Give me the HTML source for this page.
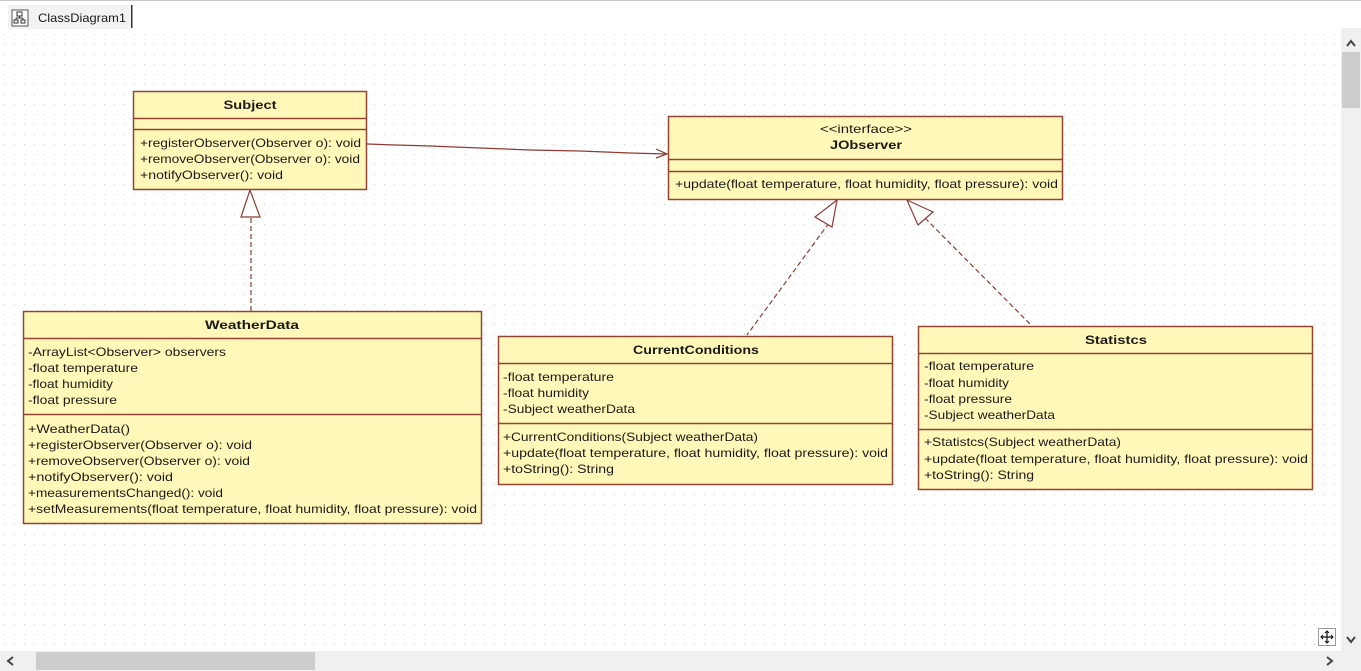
<!DOCTYPE html>
<html>
<head>
<meta charset="utf-8">
<style>
html,body{margin:0;padding:0;background:#fff;}
body{width:1361px;height:671px;overflow:hidden;position:relative;font-family:"Liberation Sans",sans-serif;}
svg{position:absolute;left:0;top:0;}
text{font-family:"Liberation Sans",sans-serif;font-size:12px;fill:#1a1a1a;}
.b{font-weight:bold;}
</style>
</head>
<body>
<svg width="1361" height="671" viewBox="0 0 1361 671" xmlns="http://www.w3.org/2000/svg">
<defs>
<pattern id="dots" x="0" y="0" width="10" height="10" patternUnits="userSpaceOnUse">
<rect x="4" y="4" width="1" height="1" fill="#cfcfcf"/>
</pattern>
</defs>
<!-- tab bar -->
<rect x="0" y="0" width="1361" height="28" fill="#ffffff"/>
<rect x="0" y="0" width="1361" height="1" fill="#c8c8c8"/>
<rect x="8" y="5" width="123" height="24" fill="#f3f3f3"/>
<rect x="131" y="5" width="1.5" height="23" fill="#333"/>
<!-- tab icon -->
<rect x="12" y="10" width="16" height="16" fill="#fff" stroke="#555" stroke-width="1"/>
<rect x="17" y="12" width="5" height="4" fill="none" stroke="#333" stroke-width="1"/>
<rect x="14" y="20" width="4" height="3" fill="none" stroke="#333" stroke-width="1"/>
<rect x="21" y="20" width="4" height="3" fill="none" stroke="#333" stroke-width="1"/>
<path d="M19.5 16 V18 M16 18 H23 M16 18 V20 M23 18 V20" stroke="#333" stroke-width="1" fill="none"/>
<text x="38" y="22" textLength="88" lengthAdjust="spacingAndGlyphs">ClassDiagram1</text>

<!-- canvas -->
<rect x="0" y="29" width="1341" height="622" fill="#ffffff"/>
<rect x="0" y="29" width="1341" height="622" fill="url(#dots)"/>

<!-- vertical scrollbar -->
<rect x="1341" y="28" width="20" height="623" fill="#f0f0f0"/>
<path d="M1347 46 L1351 41 L1355 46" stroke="#444" stroke-width="2" fill="none"/>
<rect x="1342" y="52" width="18" height="56" fill="#cdcdcd"/>
<path d="M1347 637 L1351 642 L1355 637" stroke="#444" stroke-width="2" fill="none"/>
<!-- horizontal scrollbar -->
<rect x="0" y="651" width="1361" height="20" fill="#f0f0f0"/>
<path d="M13 657 L8 661 L13 665" stroke="#444" stroke-width="2" fill="none"/>
<rect x="36" y="652" width="279" height="18" fill="#cdcdcd"/>
<path d="M1327 657 L1332 661 L1327 665" stroke="#444" stroke-width="2" fill="none"/>
<!-- move icon -->
<rect x="1318.5" y="628.5" width="17" height="17" fill="#fff" stroke="#999" stroke-width="1"/>
<path d="M1327 631 V643 M1321 637 H1333" stroke="#111" stroke-width="1.2"/>
<path d="M1325 633 L1327 631 L1329 633 M1325 641 L1327 643 L1329 641 M1323 635 L1321 637 L1323 639 M1331 635 L1333 637 L1331 639" stroke="#111" stroke-width="1" fill="none"/>

<!-- connectors -->
<g stroke="#8f3a34" stroke-width="1.2" fill="none">
<path d="M367 144 L395 145 L430 146 L480 148 L530 150 L580 151 L630 153 L667 154"/>
<path d="M656 149 L667 154 L656 158"/>
<path d="M251 218 V311" stroke-dasharray="5,3"/>
<path d="M250 190 L241 217 L260 217 Z" fill="#fff"/>
<path d="M829 223 L747 335" stroke-dasharray="5,3"/>
<path d="M837 200 L815 217 L832 227 Z" fill="#fff"/>
<path d="M925 218 L1032 326" stroke-dasharray="5,3"/>
<path d="M907 200 L933 212 L918 225 Z" fill="#fff"/>
</g>

<!-- class boxes -->
<g fill="#fff8b8" stroke="#934434" stroke-width="1.5">
<rect x="133.5" y="91.5" width="233" height="98"/>
<rect x="668.5" y="116.5" width="394" height="83"/>
<rect x="23.5" y="311.5" width="458" height="212"/>
<rect x="498.5" y="336.5" width="394" height="148"/>
<rect x="918.5" y="326.5" width="394" height="163"/>
</g>
<g stroke="#934434" stroke-width="1.5">
<path d="M133 118.5 H367 M133 129.5 H367"/>
<path d="M668 159.5 H1063 M668 171.5 H1063"/>
<path d="M23 338.5 H482 M23 414.5 H482"/>
<path d="M498 363.5 H893 M498 423.5 H893"/>
<path d="M918 353.5 H1313 M918 429.5 H1313"/>
</g>

<!-- Subject -->
<text class="b" x="250" y="109" text-anchor="middle" textLength="53" lengthAdjust="spacingAndGlyphs">Subject</text>
<text x="140" y="147" textLength="221" lengthAdjust="spacingAndGlyphs">+registerObserver(Observer o): void</text>
<text x="140" y="163" textLength="220" lengthAdjust="spacingAndGlyphs">+removeObserver(Observer o): void</text>
<text x="140" y="179" textLength="143" lengthAdjust="spacingAndGlyphs">+notifyObserver(): void</text>

<!-- JObserver -->
<text x="866" y="133" text-anchor="middle" textLength="92" lengthAdjust="spacingAndGlyphs">&lt;&lt;interface&gt;&gt;</text>
<text class="b" x="866" y="149" text-anchor="middle" textLength="72" lengthAdjust="spacingAndGlyphs">JObserver</text>
<text x="675" y="188" textLength="383" lengthAdjust="spacingAndGlyphs">+update(float temperature, float humidity, float pressure): void</text>

<!-- WeatherData -->
<text class="b" x="252" y="329" text-anchor="middle" textLength="94" lengthAdjust="spacingAndGlyphs">WeatherData</text>
<text x="28" y="356" textLength="198" lengthAdjust="spacingAndGlyphs">-ArrayList&lt;Observer&gt; observers</text>
<text x="28" y="372" textLength="110" lengthAdjust="spacingAndGlyphs">-float temperature</text>
<text x="28" y="388" textLength="85" lengthAdjust="spacingAndGlyphs">-float humidity</text>
<text x="28" y="404" textLength="89" lengthAdjust="spacingAndGlyphs">-float pressure</text>
<text x="28" y="433" textLength="102" lengthAdjust="spacingAndGlyphs">+WeatherData()</text>
<text x="28" y="449" textLength="224" lengthAdjust="spacingAndGlyphs">+registerObserver(Observer o): void</text>
<text x="28" y="465" textLength="222" lengthAdjust="spacingAndGlyphs">+removeObserver(Observer o): void</text>
<text x="28" y="481" textLength="145" lengthAdjust="spacingAndGlyphs">+notifyObserver(): void</text>
<text x="28" y="497" textLength="195" lengthAdjust="spacingAndGlyphs">+measurementsChanged(): void</text>
<text x="28" y="513" textLength="449" lengthAdjust="spacingAndGlyphs">+setMeasurements(float temperature, float humidity, float pressure): void</text>

<!-- CurrentConditions -->
<text class="b" x="696" y="354" text-anchor="middle" textLength="126" lengthAdjust="spacingAndGlyphs">CurrentConditions</text>
<text x="503" y="381" textLength="111" lengthAdjust="spacingAndGlyphs">-float temperature</text>
<text x="503" y="397" textLength="86" lengthAdjust="spacingAndGlyphs">-float humidity</text>
<text x="503" y="413" textLength="132" lengthAdjust="spacingAndGlyphs">-Subject weatherData</text>
<text x="503" y="441" textLength="255" lengthAdjust="spacingAndGlyphs">+CurrentConditions(Subject weatherData)</text>
<text x="503" y="457" textLength="385" lengthAdjust="spacingAndGlyphs">+update(float temperature, float humidity, float pressure): void</text>
<text x="503" y="473" textLength="111" lengthAdjust="spacingAndGlyphs">+toString(): String</text>

<!-- Statistcs -->
<text class="b" x="1116" y="344" text-anchor="middle" textLength="62" lengthAdjust="spacingAndGlyphs">Statistcs</text>
<text x="924" y="370" textLength="110" lengthAdjust="spacingAndGlyphs">-float temperature</text>
<text x="924" y="387" textLength="85" lengthAdjust="spacingAndGlyphs">-float humidity</text>
<text x="924" y="403" textLength="88" lengthAdjust="spacingAndGlyphs">-float pressure</text>
<text x="924" y="419" textLength="131" lengthAdjust="spacingAndGlyphs">-Subject weatherData</text>
<text x="924" y="446" textLength="197" lengthAdjust="spacingAndGlyphs">+Statistcs(Subject weatherData)</text>
<text x="924" y="463" textLength="384" lengthAdjust="spacingAndGlyphs">+update(float temperature, float humidity, float pressure): void</text>
<text x="924" y="479" textLength="110" lengthAdjust="spacingAndGlyphs">+toString(): String</text>
</svg>
</body>
</html>
